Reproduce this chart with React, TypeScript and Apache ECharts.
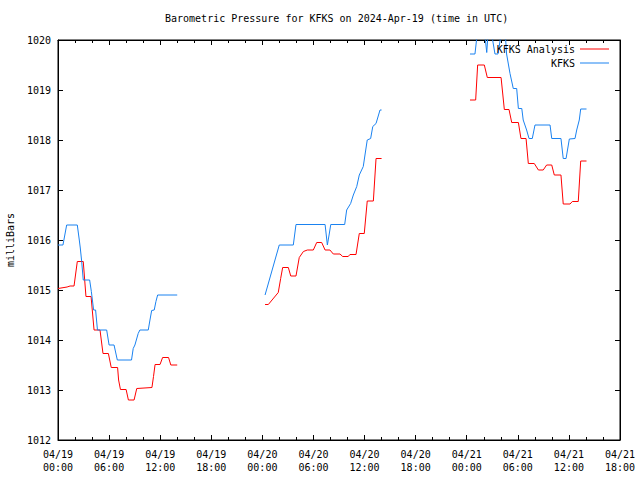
import React, { useEffect, useRef } from "react";
import * as echarts from "echarts";

const chartTitle = "Barometric Pressure for KFKS on 2024-Apr-19 (time in UTC)";
const yAxisName = "milliBars";
const startDay = 19;
const xMaxHours = 66;

// KFKS Analysis (red)
const analysisTimes = [
  "04/19 00:00", "04/19 01:04", "04/19 01:25", "04/19 01:53", "04/19 02:16", "04/19 02:58",
  "04/19 03:17", "04/19 03:53", "04/19 04:14", "04/19 04:56", "04/19 05:17", "04/19 05:55",
  "04/19 06:15", "04/19 07:00", "04/19 07:07", "04/19 07:20", "04/19 08:00", "04/19 08:16",
  "04/19 08:56", "04/19 09:15", "04/19 11:02", "04/19 11:13", "04/19 11:24", "04/19 11:59",
  "04/19 12:17", "04/19 12:59", "04/19 13:15", "04/19 14:00",
  "04/19 18:00",
  "04/20 00:19", "04/20 00:42", "04/20 01:52", "04/20 02:09", "04/20 02:23", "04/20 03:03",
  "04/20 03:20", "04/20 03:57", "04/20 04:20", "04/20 04:49", "04/20 05:17", "04/20 05:59",
  "04/20 06:23", "04/20 06:58", "04/20 07:22", "04/20 07:56", "04/20 08:20", "04/20 09:07",
  "04/20 09:26", "04/20 10:05", "04/20 10:17", "04/20 11:00", "04/20 11:23", "04/20 11:58",
  "04/20 12:19", "04/20 13:02", "04/20 13:21", "04/20 14:00",
  "04/20 18:00",
  "04/21 00:23", "04/21 01:03", "04/21 01:17", "04/21 02:04", "04/21 02:25", "04/21 04:02",
  "04/21 04:25", "04/21 04:58", "04/21 05:17", "04/21 06:04", "04/21 06:22", "04/21 06:58",
  "04/21 07:14", "04/21 07:56", "04/21 08:25", "04/21 08:59", "04/21 09:23", "04/21 09:59",
  "04/21 10:17", "04/21 11:04", "04/21 11:20", "04/21 12:08", "04/21 12:24", "04/21 13:06",
  "04/21 13:23", "04/21 14:04",
];
const analysisValues = [
  1015.03, 1015.06, 1015.08, 1015.08, 1015.57, 1015.57,
  1014.87, 1014.87, 1014.2, 1014.2, 1013.73, 1013.73,
  1013.45, 1013.45, 1013.2, 1013.01, 1013.01, 1012.8,
  1012.8, 1013.03, 1013.05, 1013.27, 1013.51, 1013.51,
  1013.65, 1013.65, 1013.5, 1013.5,
  null,
  1014.71, 1014.71, 1014.95, 1015.23, 1015.45, 1015.45,
  1015.28, 1015.28, 1015.65, 1015.77, 1015.8, 1015.8,
  1015.95, 1015.95, 1015.8, 1015.8, 1015.72, 1015.72,
  1015.67, 1015.67, 1015.71, 1015.71, 1016.13, 1016.13,
  1016.78, 1016.78, 1017.63, 1017.63,
  null,
  1018.8, 1018.8, 1019.5, 1019.5, 1019.25, 1019.25,
  1018.61, 1018.61, 1018.35, 1018.35, 1018.03, 1018.03,
  1017.53, 1017.53, 1017.4, 1017.4, 1017.5, 1017.5,
  1017.3, 1017.3, 1016.72, 1016.72, 1016.77, 1016.77,
  1017.58, 1017.58,
];

// KFKS observations (blue)
const kfksTimes = [
  "04/19 00:00", "04/19 00:35", "04/19 01:01", "04/19 02:16", "04/19 02:30", "04/19 02:37",
  "04/19 02:47", "04/19 02:58", "04/19 03:43", "04/19 03:55", "04/19 04:11", "04/19 04:25",
  "04/19 04:38", "04/19 05:43", "04/19 06:00", "04/19 06:35", "04/19 06:58", "04/19 08:38",
  "04/19 08:50", "04/19 09:02", "04/19 09:25", "04/19 09:37", "04/19 10:36", "04/19 10:48",
  "04/19 11:00", "04/19 11:18", "04/19 11:30", "04/19 11:42", "04/19 14:00",
  "04/19 18:00",
  "04/20 00:19", "04/20 01:59", "04/20 03:38", "04/20 03:57", "04/20 07:22", "04/20 07:38",
  "04/20 07:50", "04/20 08:02", "04/20 09:40", "04/20 09:54", "04/20 10:22", "04/20 10:41",
  "04/20 11:05", "04/20 11:23", "04/20 11:51", "04/20 12:03", "04/20 12:19", "04/20 12:43",
  "04/20 12:58", "04/20 13:21", "04/20 13:49", "04/20 14:00",
  "04/20 18:00",
  "04/21 00:23", "04/21 00:58", "04/21 01:17", "04/21 02:04", "04/21 02:21", "04/21 02:32",
  "04/21 02:51", "04/21 03:19", "04/21 03:40", "04/21 04:07", "04/21 04:30", "04/21 04:41",
  "04/21 05:05", "04/21 05:28", "04/21 05:52", "04/21 06:04", "04/21 06:28", "04/21 06:38",
  "04/21 07:02", "04/21 07:19", "04/21 07:42", "04/21 08:01", "04/21 09:47", "04/21 09:59",
  "04/21 11:04", "04/21 11:20", "04/21 11:40", "04/21 12:03", "04/21 12:43", "04/21 12:55",
  "04/21 13:13", "04/21 13:23", "04/21 14:04",
];
const kfksValues = [
  1015.9, 1015.9, 1016.3, 1016.3, 1016.0, 1015.84,
  1015.57, 1015.2, 1015.2, 1014.97, 1014.6, 1014.6,
  1014.2, 1014.2, 1013.9, 1013.9, 1013.6, 1013.6,
  1013.83, 1013.9, 1014.13, 1014.2, 1014.2, 1014.4,
  1014.59, 1014.6, 1014.77, 1014.9, 1014.9,
  null,
  1014.9, 1015.9, 1015.9, 1016.31, 1016.31, 1015.9,
  1016.1, 1016.31, 1016.31, 1016.6, 1016.73, 1016.9,
  1017.07, 1017.3, 1017.47, 1017.7, 1018.0, 1018.03,
  1018.27, 1018.33, 1018.6, 1018.6,
  null,
  1019.72, 1019.72, 1020.2, 1020.2, 1019.75, 1020.2,
  1020.2, 1019.72, 1019.72, 1020.2, 1020.2, 1019.72,
  1019.33, 1019.03, 1019.03, 1018.63, 1018.63, 1018.4,
  1018.2, 1018.03, 1018.03, 1018.3, 1018.3, 1018.03,
  1018.03, 1017.63, 1017.63, 1018.02, 1018.03, 1018.2,
  1018.4, 1018.62, 1018.62,
];

const toHours = (t: string): number => {
  const [date, time] = t.split(" ");
  const day = parseInt(date.split("/")[1], 10);
  const [hh, mm] = time.split(":").map((v) => parseInt(v, 10));
  return (day - startDay) * 24 + hh + mm / 60;
};

const buildData = (times: string[], values: (number | null)[]) =>
  times.map((t, i) => [toHours(t), values[i] === null ? "-" : values[i]]);

const FONT = "DejaVu Sans Mono";

const fmtX = (v: number) => {
  const day = startDay + Math.floor(v / 24);
  const hh = Math.round(v % 24);
  const p = (n: number) => String(n).padStart(2, "0");
  return `04/${p(day)}\n${p(hh)}:00`;
};

export default function App() {
  const ref = useRef<HTMLDivElement>(null);
  useEffect(() => {
    if (!ref.current) return;
    const chart = echarts.init(ref.current, undefined, { renderer: "svg" });
    const xCommon = {
      type: "value" as const,
      min: 0,
      max: xMaxHours,
      interval: 6,
      splitLine: { show: false },
      axisLine: { show: true, onZero: false, lineStyle: { color: "#000", width: 1 } },
      axisTick: { show: true, inside: true, length: 5, lineStyle: { color: "#000" } },
      minorTick: { show: true, splitNumber: 3, length: 3, lineStyle: { color: "#000" } },
    };
    const yCommon = {
      type: "value" as const,
      min: 1012,
      max: 1020,
      interval: 1,
      splitLine: { show: false },
      axisLine: { show: true, onZero: false, lineStyle: { color: "#000", width: 1 } },
      axisTick: { show: true, inside: true, length: 5, lineStyle: { color: "#000" } },
    };
    chart.setOption({
      animation: false,
      backgroundColor: "#fff",
      title: {
        text: chartTitle,
        left: 165,
        top: 13,
        padding: 0,
        textStyle: { fontFamily: FONT, fontSize: 10, fontWeight: "normal", color: "#000" },
      },
      legend: [
        {
          data: ["KFKS Analysis"],
          right: 31,
          top: 43,
          padding: 0,
          align: "right",
          icon: "rect",
          itemWidth: 29,
          itemHeight: 1,
          textStyle: { fontFamily: FONT, fontSize: 10, color: "#000", lineHeight: 12 },
          selectedMode: false,
        },
        {
          data: ["KFKS"],
          right: 31,
          top: 57,
          padding: 0,
          align: "right",
          icon: "rect",
          itemWidth: 29,
          itemHeight: 1,
          textStyle: { fontFamily: FONT, fontSize: 10, color: "#000", lineHeight: 12 },
          selectedMode: false,
        },
      ],
      grid: {
        left: 58,
        right: 20,
        top: 40,
        bottom: 40,
        containLabel: false,
        outerBoundsMode: "none",
        show: true,
        borderColor: "#000",
        borderWidth: 1,
        backgroundColor: "transparent",
      },
      xAxis: [
        {
          ...xCommon,
          position: "bottom",
          axisLabel: {
            show: true,
            margin: 8,
            fontFamily: FONT,
            fontSize: 10,
            color: "#000",
            lineHeight: 13,
            showMinLabel: true,
            showMaxLabel: true,
            formatter: fmtX,
          },
        },
        { ...xCommon, position: "top", axisLabel: { show: false } },
      ],
      yAxis: [
        {
          ...yCommon,
          position: "left",
          name: yAxisName,
          nameLocation: "middle",
          nameRotate: 90,
          nameGap: 43,
          nameTextStyle: { fontFamily: FONT, fontSize: 10, color: "#000" },
          axisLabel: {
            show: true,
            margin: 7,
            fontFamily: FONT,
            fontSize: 10,
            color: "#000",
            formatter: (v: number) => String(v),
          },
        },
        { ...yCommon, position: "right", axisLabel: { show: false } },
      ],
      series: [
        {
          name: "KFKS Analysis",
          type: "line",
          data: buildData(analysisTimes, analysisValues),
          showSymbol: false,
          symbol: "none",
          connectNulls: false,
          clip: true,
          color: "#ff0000",
          lineStyle: { color: "#ff0000", width: 1 },
        },
        {
          name: "KFKS",
          type: "line",
          data: buildData(kfksTimes, kfksValues),
          showSymbol: false,
          symbol: "none",
          connectNulls: false,
          clip: true,
          color: "#1a82f0",
          lineStyle: { color: "#1a82f0", width: 1 },
        },
      ],
    });
    return () => chart.dispose();
  }, []);
  return <div ref={ref} style={{ width: 640, height: 480, position: "absolute", left: 0, top: 0 }} />;
}
